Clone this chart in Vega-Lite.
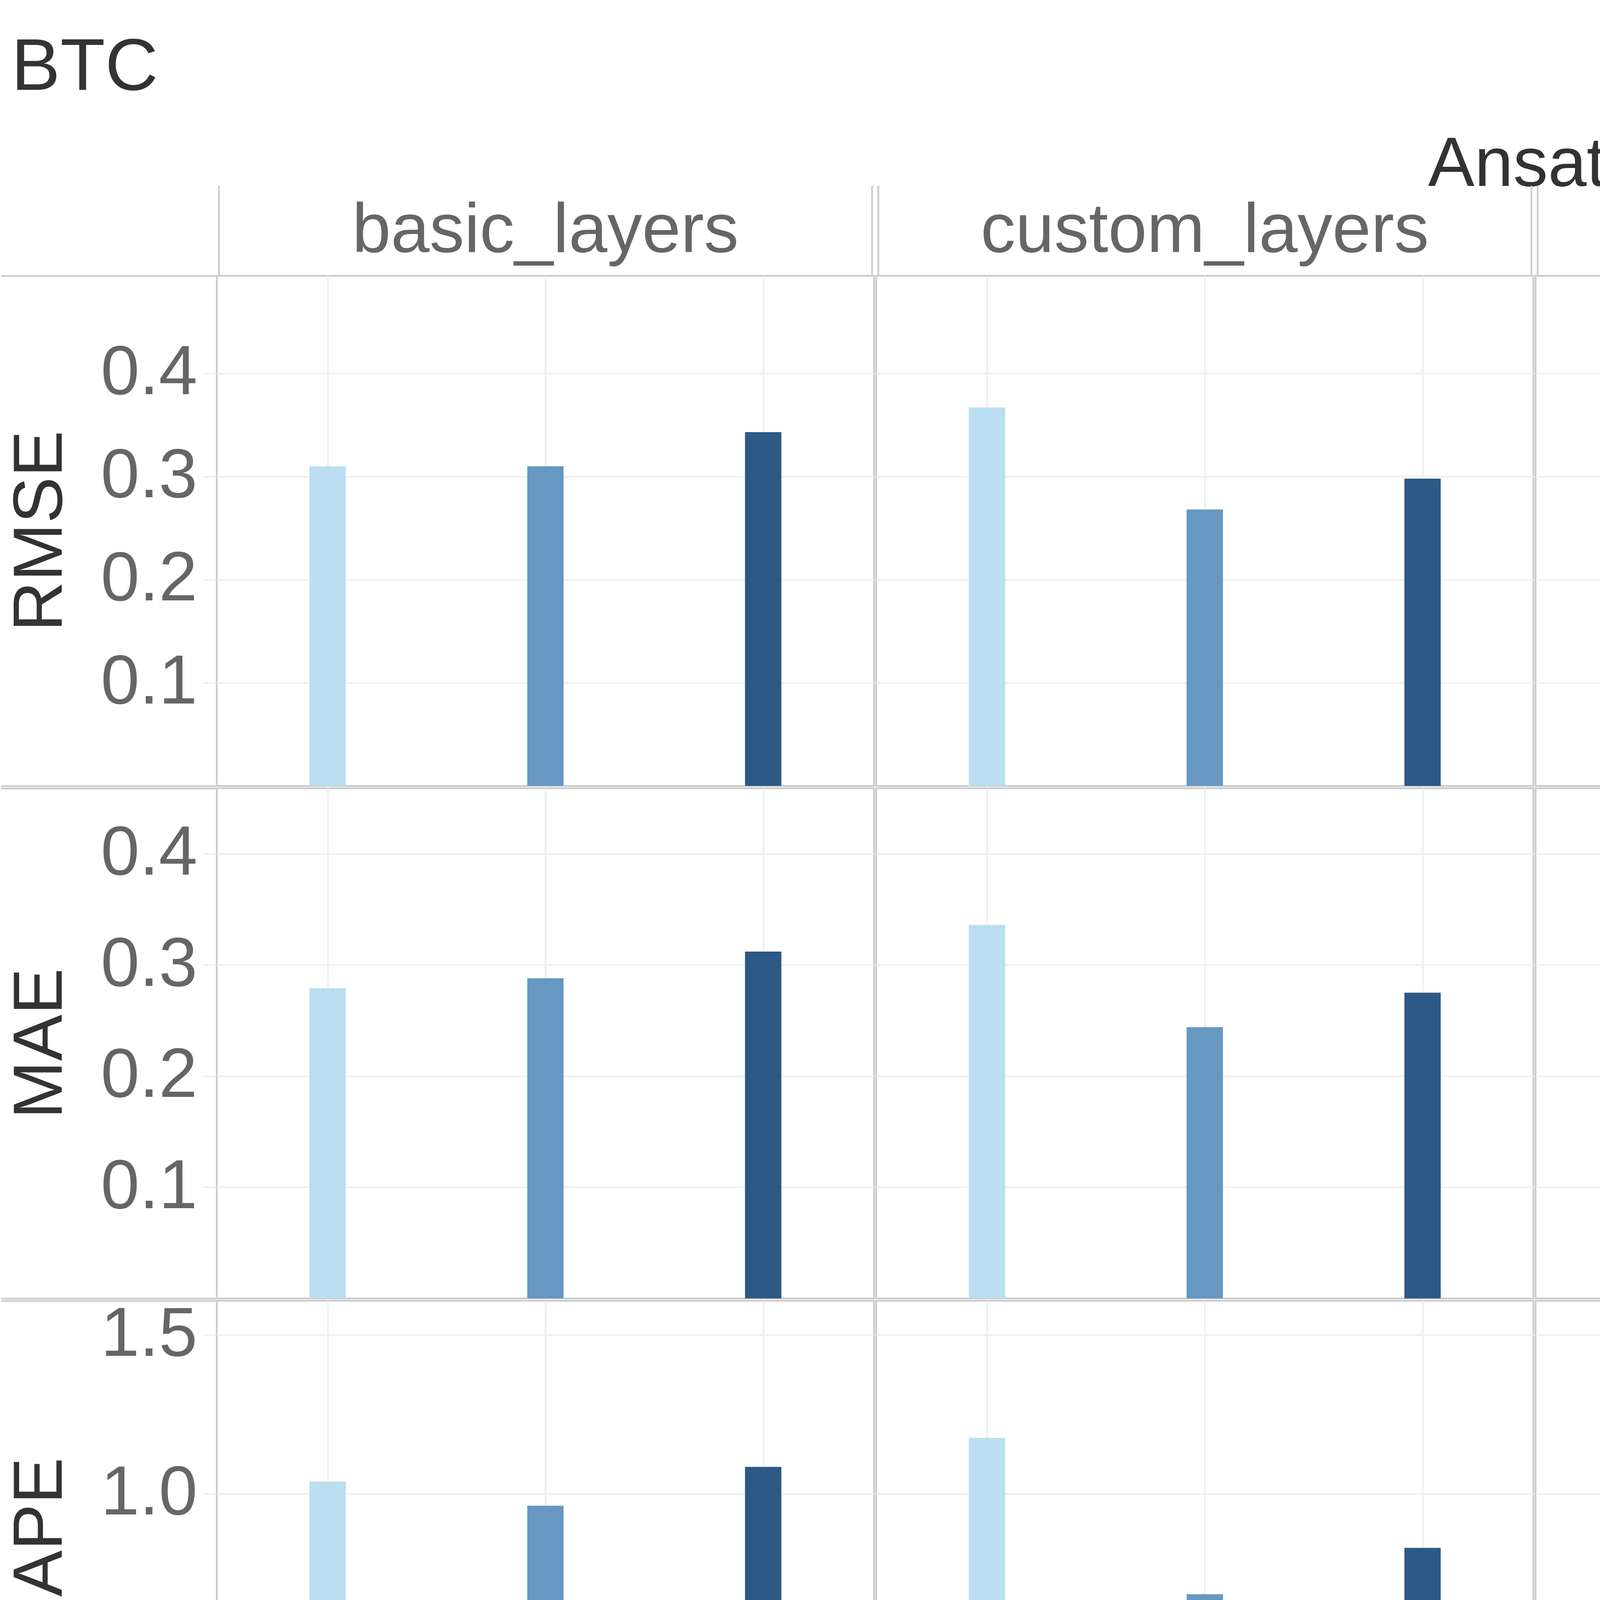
{
  "$schema": "https://vega.github.io/schema/vega-lite/v6.json",
  "background": "white",
  "padding": {"left": 0, "top": 80, "right": 8, "bottom": 0},
  "title": {"text": "BTC", "anchor": "start", "fontSize": 188, "font": "Liberation Sans", "fontWeight": "normal", "color": "#333333", "offset": 65, "dx": 28},
  "data": {"values": [
    {"Metric": "RMSE", "Ansatz": "basic_layers", "Qubits": 4, "value": 0.310},
    {"Metric": "RMSE", "Ansatz": "basic_layers", "Qubits": 6, "value": 0.310},
    {"Metric": "RMSE", "Ansatz": "basic_layers", "Qubits": 8, "value": 0.343},
    {"Metric": "RMSE", "Ansatz": "custom_layers", "Qubits": 4, "value": 0.367},
    {"Metric": "RMSE", "Ansatz": "custom_layers", "Qubits": 6, "value": 0.268},
    {"Metric": "RMSE", "Ansatz": "custom_layers", "Qubits": 8, "value": 0.298},
    {"Metric": "RMSE", "Ansatz": "random_layers", "Qubits": 4, "value": 0.284},
    {"Metric": "RMSE", "Ansatz": "random_layers", "Qubits": 6, "value": 0.282},
    {"Metric": "RMSE", "Ansatz": "random_layers", "Qubits": 8, "value": 0.471},
    {"Metric": "RMSE", "Ansatz": "strongly_layers", "Qubits": 4, "value": 0.225},
    {"Metric": "RMSE", "Ansatz": "strongly_layers", "Qubits": 6, "value": 0.222},
    {"Metric": "RMSE", "Ansatz": "strongly_layers", "Qubits": 8, "value": 0.258},
    {"Metric": "MAE", "Ansatz": "basic_layers", "Qubits": 4, "value": 0.279},
    {"Metric": "MAE", "Ansatz": "basic_layers", "Qubits": 6, "value": 0.288},
    {"Metric": "MAE", "Ansatz": "basic_layers", "Qubits": 8, "value": 0.312},
    {"Metric": "MAE", "Ansatz": "custom_layers", "Qubits": 4, "value": 0.336},
    {"Metric": "MAE", "Ansatz": "custom_layers", "Qubits": 6, "value": 0.244},
    {"Metric": "MAE", "Ansatz": "custom_layers", "Qubits": 8, "value": 0.275},
    {"Metric": "MAE", "Ansatz": "random_layers", "Qubits": 4, "value": 0.255},
    {"Metric": "MAE", "Ansatz": "random_layers", "Qubits": 6, "value": 0.255},
    {"Metric": "MAE", "Ansatz": "random_layers", "Qubits": 8, "value": 0.437},
    {"Metric": "MAE", "Ansatz": "strongly_layers", "Qubits": 4, "value": 0.201},
    {"Metric": "MAE", "Ansatz": "strongly_layers", "Qubits": 6, "value": 0.190},
    {"Metric": "MAE", "Ansatz": "strongly_layers", "Qubits": 8, "value": 0.218},
    {"Metric": "MAPE", "Ansatz": "basic_layers", "Qubits": 4, "value": 1.038},
    {"Metric": "MAPE", "Ansatz": "basic_layers", "Qubits": 6, "value": 0.962},
    {"Metric": "MAPE", "Ansatz": "basic_layers", "Qubits": 8, "value": 1.084},
    {"Metric": "MAPE", "Ansatz": "custom_layers", "Qubits": 4, "value": 1.176},
    {"Metric": "MAPE", "Ansatz": "custom_layers", "Qubits": 6, "value": 0.683},
    {"Metric": "MAPE", "Ansatz": "custom_layers", "Qubits": 8, "value": 0.829},
    {"Metric": "MAPE", "Ansatz": "random_layers", "Qubits": 4, "value": 0.969},
    {"Metric": "MAPE", "Ansatz": "random_layers", "Qubits": 6, "value": 0.822},
    {"Metric": "MAPE", "Ansatz": "random_layers", "Qubits": 8, "value": 1.531},
    {"Metric": "MAPE", "Ansatz": "strongly_layers", "Qubits": 4, "value": 0.661},
    {"Metric": "MAPE", "Ansatz": "strongly_layers", "Qubits": 6, "value": 0.522},
    {"Metric": "MAPE", "Ansatz": "strongly_layers", "Qubits": 8, "value": 0.515},
    {"Metric": "Std dev MAPE", "Ansatz": "basic_layers", "Qubits": 4, "value": 0.715},
    {"Metric": "Std dev MAPE", "Ansatz": "basic_layers", "Qubits": 6, "value": 0.403},
    {"Metric": "Std dev MAPE", "Ansatz": "basic_layers", "Qubits": 8, "value": 0.674},
    {"Metric": "Std dev MAPE", "Ansatz": "custom_layers", "Qubits": 4, "value": 0.759},
    {"Metric": "Std dev MAPE", "Ansatz": "custom_layers", "Qubits": 6, "value": 0.269},
    {"Metric": "Std dev MAPE", "Ansatz": "custom_layers", "Qubits": 8, "value": 0.062},
    {"Metric": "Std dev MAPE", "Ansatz": "random_layers", "Qubits": 4, "value": 0.459},
    {"Metric": "Std dev MAPE", "Ansatz": "random_layers", "Qubits": 6, "value": 0.735},
    {"Metric": "Std dev MAPE", "Ansatz": "random_layers", "Qubits": 8, "value": 0.277},
    {"Metric": "Std dev MAPE", "Ansatz": "strongly_layers", "Qubits": 4, "value": 0.808},
    {"Metric": "Std dev MAPE", "Ansatz": "strongly_layers", "Qubits": 6, "value": 0.115},
    {"Metric": "Std dev MAPE", "Ansatz": "strongly_layers", "Qubits": 8, "value": 0.054}
  ]},
  "spacing": 0,
  "vconcat": [
    {
      "transform": [{"filter": "datum.Metric === 'RMSE'"}],
      "facet": {"column": {"field": "Ansatz", "type": "nominal", "title": "Ansatz",
        "header": {"labelFont": "Liberation Sans", "labelFontSize": 178, "labelColor": "#666666", "labelPadding": -209, "labelLimit": 0,
                   "titleFont": "Liberation Sans", "titleFontSize": 178, "titleColor": "#333333", "titleFontWeight": "normal", "titlePadding": -51}}},
      "spacing": 0,
      "spec": {
        "width": 1682.5, "height": 1306,
        "layer": [
          {
            "mark": {"type": "bar", "size": 93, "orient": "vertical"},
            "encoding": {
              "x": {"field": "Qubits", "type": "quantitative", "scale": {"domain": [3, 9], "nice": false, "zero": false},
                    "axis": {"orient": "bottom", "values": [4, 6, 8], "labels": false, "ticks": false, "title": null, "grid": true}},
              "y": {"field": "value", "type": "quantitative", "scale": {"domain": [0, 0.4946], "nice": false},
                    "axis": {"orient": "left", "title": "RMSE", "values": [0.1, 0.2, 0.3, 0.4], "format": ".1f", "labelFlush": true, "labelPadding": 15, "titlePadding": 158}},
              "color": {"field": "Qubits", "type": "ordinal", "scale": {"domain": [4, 6, 8], "range": ["#BBDEF0", "#6798C1", "#2C5985"]}, "legend": null}
            }
          },
          {
            "mark": {"type": "point", "opacity": 0},
            "encoding": {
              "x": {"field": "Qubits", "type": "quantitative", "scale": {"domain": [3, 9], "nice": false, "zero": false},
                    "axis": {"orient": "top", "values": [3, 9], "tickSize": 228, "tickColor": "#cccccc", "tickWidth": 4.5, "labels": false, "grid": false, "title": null}},
              "y": {"field": "value", "type": "quantitative", "scale": {"domain": [0, 0.4946], "nice": false},
                    "axis": {"orient": "left", "values": [0, 0.4946], "tickSize": 549, "tickColor": "#cccccc", "tickWidth": 4.5, "labels": false, "grid": false, "title": null}}
            }
          }
        ],
        "resolve": {"axis": {"x": "independent", "y": "independent"}}
      }
    },
    {
      "transform": [{"filter": "datum.Metric === 'MAE'"}],
      "facet": {"column": {"field": "Ansatz", "type": "nominal", "header": null}},
      "spacing": 0,
      "spec": {
        "width": 1682.5, "height": 1306,
        "layer": [
          {
            "mark": {"type": "bar", "size": 93, "orient": "vertical"},
            "encoding": {
              "x": {"field": "Qubits", "type": "quantitative", "scale": {"domain": [3, 9], "nice": false, "zero": false},
                    "axis": {"orient": "bottom", "values": [4, 6, 8], "labels": false, "ticks": false, "title": null, "grid": true}},
              "y": {"field": "value", "type": "quantitative", "scale": {"domain": [0, 0.4589], "nice": false},
                    "axis": {"orient": "left", "title": "MAE", "values": [0.1, 0.2, 0.3, 0.4], "format": ".1f", "labelFlush": true, "labelPadding": 15, "titlePadding": 158}},
              "color": {"field": "Qubits", "type": "ordinal", "scale": {"domain": [4, 6, 8], "range": ["#BBDEF0", "#6798C1", "#2C5985"]}, "legend": null}
            }
          },
          {
            "mark": {"type": "point", "opacity": 0},
            "encoding": {
              "y": {"field": "value", "type": "quantitative", "scale": {"domain": [0, 0.4589], "nice": false},
                    "axis": {"orient": "left", "values": [0, 0.4589], "tickSize": 549, "tickColor": "#cccccc", "tickWidth": 4.5, "labels": false, "grid": false, "title": null}}
            }
          }
        ],
        "resolve": {"axis": {"y": "independent"}}
      }
    },
    {
      "transform": [{"filter": "datum.Metric === 'MAPE'"}],
      "facet": {"column": {"field": "Ansatz", "type": "nominal", "header": null}},
      "spacing": 0,
      "spec": {
        "width": 1682.5, "height": 1306,
        "layer": [
          {
            "mark": {"type": "bar", "size": 93, "orient": "vertical"},
            "encoding": {
              "x": {"field": "Qubits", "type": "quantitative", "scale": {"domain": [3, 9], "nice": false, "zero": false},
                    "axis": {"orient": "bottom", "values": [4, 6, 8], "labels": false, "ticks": false, "title": null, "grid": true}},
              "y": {"field": "value", "type": "quantitative", "scale": {"domain": [0, 1.6076], "nice": false},
                    "axis": {"orient": "left", "title": "MAPE", "values": [0, 0.5, 1.0, 1.5], "format": ".1f", "labelFlush": true, "labelPadding": 15, "titlePadding": 158}},
              "color": {"field": "Qubits", "type": "ordinal", "scale": {"domain": [4, 6, 8], "range": ["#BBDEF0", "#6798C1", "#2C5985"]}, "legend": null}
            }
          },
          {
            "mark": {"type": "point", "opacity": 0},
            "encoding": {
              "y": {"field": "value", "type": "quantitative", "scale": {"domain": [0, 1.6076], "nice": false},
                    "axis": {"orient": "left", "values": [0, 1.6076], "tickSize": 549, "tickColor": "#cccccc", "tickWidth": 4.5, "labels": false, "grid": false, "title": null}}
            }
          }
        ],
        "resolve": {"axis": {"y": "independent"}}
      }
    },
    {
      "transform": [{"filter": "datum.Metric === 'Std dev MAPE'"}],
      "facet": {"column": {"field": "Ansatz", "type": "nominal", "header": null}},
      "spacing": 0,
      "spec": {
        "width": 1682.5, "height": 1306,
        "layer": [
          {
            "mark": {"type": "bar", "size": 93, "orient": "vertical"},
            "encoding": {
              "x": {"field": "Qubits", "type": "quantitative", "scale": {"domain": [3, 9], "nice": false, "zero": false},
                    "axis": {"orient": "bottom", "values": [4, 6, 8], "title": "Qubits", "grid": true, "labelPadding": 28, "titlePadding": 184, "labelFlush": false}},
              "y": {"field": "value", "type": "quantitative", "scale": {"domain": [0, 0.8484], "nice": false},
                    "axis": {"orient": "left", "title": "Std dev MAPE", "values": [0, 0.2, 0.4, 0.6, 0.8], "format": ".1f", "labelFlush": true, "labelPadding": 15, "titlePadding": 158}},
              "color": {"field": "Qubits", "type": "ordinal", "scale": {"domain": [4, 6, 8], "range": ["#BBDEF0", "#6798C1", "#2C5985"]}, "legend": null}
            }
          },
          {
            "mark": {"type": "point", "opacity": 0},
            "encoding": {
              "x": {"field": "Qubits", "type": "quantitative", "scale": {"domain": [3, 9], "nice": false, "zero": false},
                    "axis": {"orient": "bottom", "values": [3, 9], "tickSize": 622, "tickColor": "#cccccc", "tickWidth": 4.5, "labels": false, "grid": false, "title": null}},
              "y": {"field": "value", "type": "quantitative", "scale": {"domain": [0, 0.8484], "nice": false},
                    "axis": {"orient": "left", "values": [0, 0.8484], "tickSize": 549, "tickColor": "#cccccc", "tickWidth": 4.5, "labels": false, "grid": false, "title": null}}
            }
          }
        ],
        "resolve": {"axis": {"x": "independent", "y": "independent"}}
      }
    }
  ],
  "config": {
    "font": "Liberation Sans",
    "view": {"stroke": "#cccccc", "strokeWidth": 4.5},
    "axis": {"labelFont": "Liberation Sans", "labelFontSize": 178, "labelColor": "#666666", "labelLimit": 0,
             "titleFont": "Liberation Sans", "titleFontSize": 178, "titleColor": "#333333", "titleFontWeight": "normal",
             "gridColor": "#f0f0f0", "gridWidth": 4.5, "tickColor": "#f0f0f0", "tickWidth": 4.5, "tickSize": 32, "domain": false}
  }
}
